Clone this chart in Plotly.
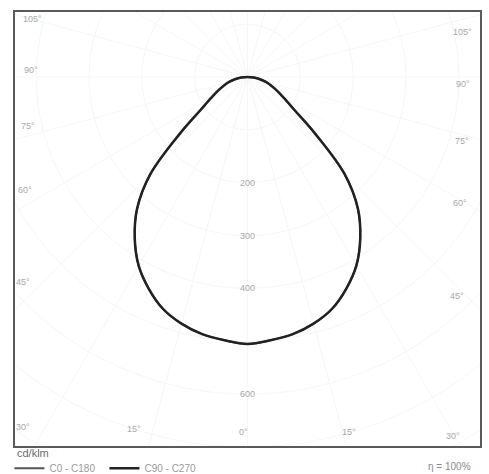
import numpy as np
import plotly.graph_objects as go

# ---- data (cd/klm vs gamma angle, symmetric) ----
gamma_deg = [0, 5, 10, 15, 20, 25, 30, 35, 40, 45, 50, 55, 60, 65, 70, 75, 80, 85, 90]
intensity_c0_c180 = [505, 500, 494, 483, 467, 442, 412, 372, 325, 260, 168, 108, 80, 62, 48, 36, 24, 12, 0]
intensity_c90_c270 = [505, 500, 494, 483, 467, 442, 412, 372, 325, 260, 168, 108, 80, 62, 48, 36, 24, 12, 0]
series_names = ["C0 - C180", "C90 - C270"]
radial_ticks = [200, 300, 400, 600]
angle_labels_left = ["105°", "90°", "75°", "60°", "45°", "30°"]
angle_labels_bottom = ["15°", "0°", "15°"]
angle_labels_right = ["105°", "90°", "75°", "60°", "45°", "30°"]
unit_label = "cd/klm"
efficiency_label = "η = 100%"


def to_xy(angles, vals):
    a = np.array(angles, dtype=float)
    v = np.array(vals, dtype=float)
    full_a = np.concatenate([-a[::-1], a[1:]])
    full_v = np.concatenate([v[::-1], v[1:]])
    r = np.radians(full_a)
    return full_v * np.sin(r), -full_v * np.cos(r)


fig = go.Figure()

# very faint polar grid (faded in the original)
grid_col = "#f6f6f6"
t = np.linspace(0, 2 * np.pi, 200)
for rr in [100, 200, 300, 400, 500, 600, 700, 800]:
    fig.add_trace(go.Scatter(x=rr * np.cos(t), y=rr * np.sin(t), mode="lines",
                             line=dict(color=grid_col, width=1), hoverinfo="skip", showlegend=False))
for ang in range(0, 360, 15):
    ra = np.radians(ang)
    fig.add_trace(go.Scatter(x=[0, 1000 * np.sin(ra)], y=[0, -1000 * np.cos(ra)], mode="lines",
                             line=dict(color=grid_col, width=1), hoverinfo="skip", showlegend=False))

styles = [dict(color="#555555", width=2), dict(color="#222222", width=2.5)]
for name, vals, st in zip(series_names, [intensity_c0_c180, intensity_c90_c270], styles):
    x, y = to_xy(gamma_deg, vals)
    fig.add_trace(go.Scatter(x=x, y=y, mode="lines", name=name,
                             line=dict(color=st["color"], width=st["width"], shape="spline"),
                             showlegend=True))

lab_font = dict(family="Liberation Sans, Arial, sans-serif", size=9, color="#a8a8a8")
ann = []
for v in radial_ticks:
    ann.append(dict(x=0, y=-v, text=str(v), showarrow=False, font=lab_font,
                    xanchor="center", yanchor="middle", xref="x", yref="y"))

left_pos = [(-406, 110), (-410, 13), (-416, -93), (-421, -214), (-425, -388), (-425, -662)]
for txt, (px, py) in zip(angle_labels_left, left_pos):
    ann.append(dict(x=px, y=py, text=txt, showarrow=False, font=lab_font,
                    xanchor="center", yanchor="middle"))
bottom_pos = [(-214, -665), (-8, -671), (193, -671)]
for txt, (px, py) in zip(angle_labels_bottom, bottom_pos):
    ann.append(dict(x=px, y=py, text=txt, showarrow=False, font=lab_font,
                    xanchor="center", yanchor="middle"))
right_pos = [(406, 85), (408, -13), (406, -121), (403, -238), (397, -414), (388, -679)]
for txt, (px, py) in zip(angle_labels_right, right_pos):
    ann.append(dict(x=px, y=py, text=txt, showarrow=False, font=lab_font,
                    xanchor="center", yanchor="middle"))

ann.append(dict(x=0.0, y=-0.016, xref="paper", yref="paper", text=unit_label, showarrow=False,
                font=dict(family="Liberation Sans, Arial, sans-serif", size=11, color="#6a6a6a"),
                xanchor="left", yanchor="middle"))
ann.append(dict(x=0.985, y=-0.048, xref="paper", yref="paper", text=efficiency_label, showarrow=False,
                font=dict(family="Liberation Sans, Arial, sans-serif", size=10, color="#8a8a8a"),
                xanchor="right", yanchor="middle"))

fig.update_layout(
    width=489, height=474,
    margin=dict(l=15, r=9, t=12, b=28, autoexpand=False),
    paper_bgcolor="white", plot_bgcolor="white",
    xaxis=dict(range=[-440, 440], showgrid=False, zeroline=False, showticklabels=False,
               ticks="", showline=True, mirror=True, linecolor="#5a5a5a", linewidth=1.5),
    yaxis=dict(range=[-698, 123], showgrid=False, zeroline=False, showticklabels=False,
               ticks="", showline=True, mirror=True, linecolor="#5a5a5a", linewidth=1.5),
    showlegend=True,
    legend=dict(orientation="h", x=-0.012, y=-0.018, xanchor="left", yanchor="top",
                font=dict(family="Liberation Sans, Arial, sans-serif", size=10, color="#9a9a9a"),
                bgcolor="rgba(0,0,0,0)", itemwidth=30, tracegroupgap=0,
                entrywidth=50, entrywidthmode="pixels"),
    annotations=ann,
)

fig.write_html("out.html", config={"displayModeBar": False},
               post_script="document.body.style.margin='0';document.body.style.overflow='hidden';")
